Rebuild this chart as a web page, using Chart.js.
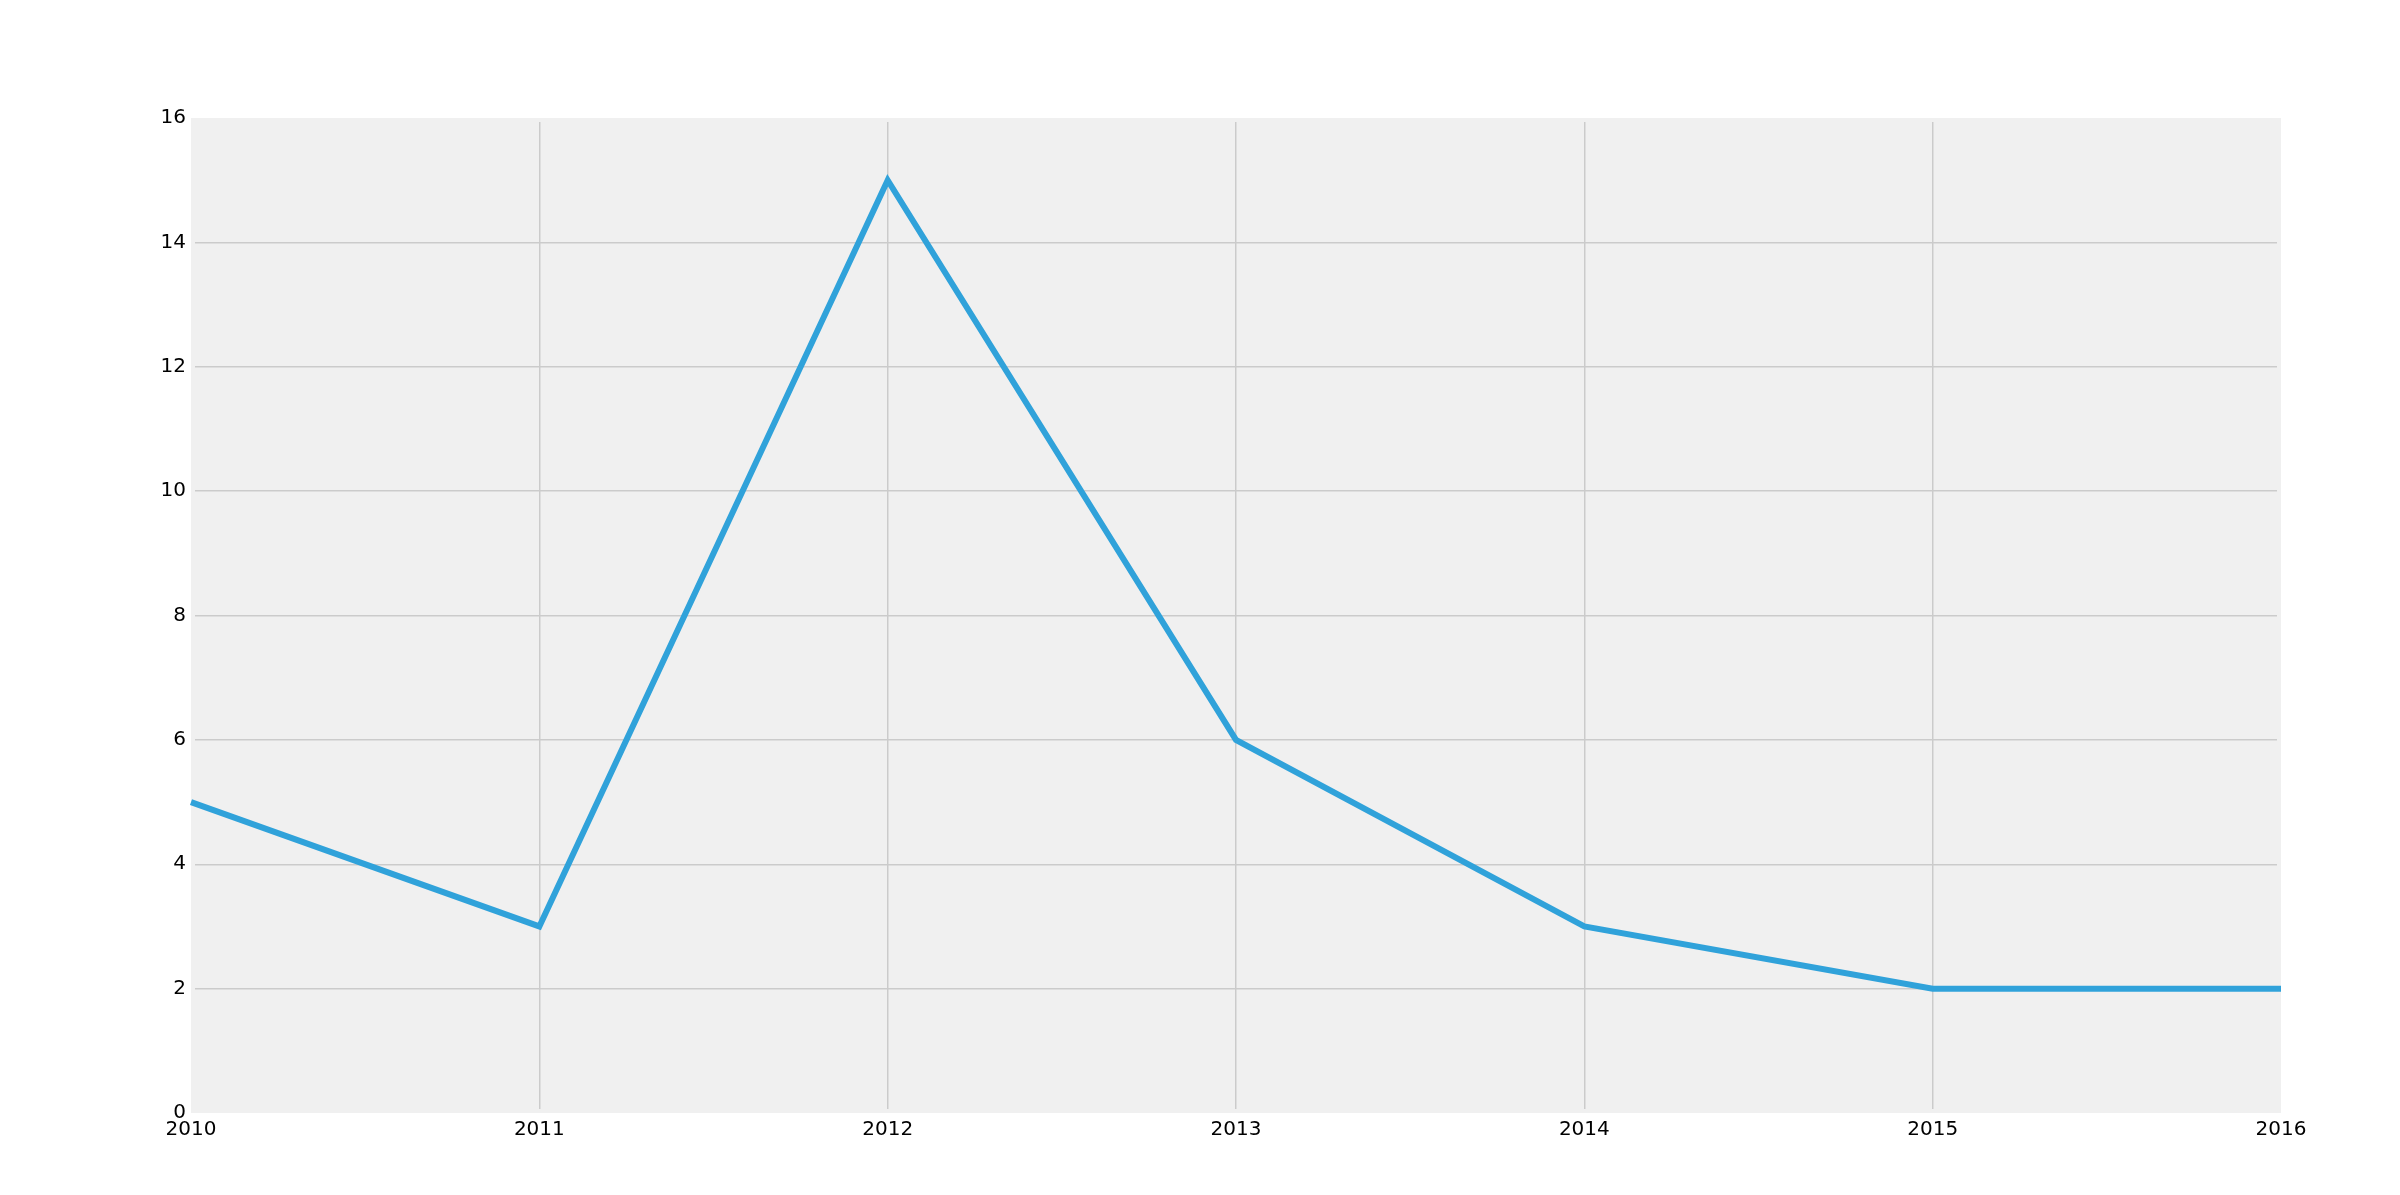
<!DOCTYPE html>
<html>
<head>
<meta charset="utf-8">
<script src="https://cdn.jsdelivr.net/npm/chart.js@4/dist/chart.umd.min.js"></script>
<style>
    html, body { margin: 0; padding: 0; background: #ffffff; }
    canvas { display: block; }
</style>
</head>
<body>
<canvas id="myChart" width="2400" height="1195"></canvas>
<script>
// data
const years = ["2010", "2011", "2012", "2013", "2014", "2015", "2016"];
const values = [5, 3, 15, 6, 3, 2, 2];
const yTicks = [0, 2, 4, 6, 8, 10, 12, 14, 16];

// grey plot background (fivethirtyeight look)
const plotBackground = {
    id: 'plotBackground',
    beforeDraw(chart) {
        const { ctx, chartArea } = chart;
        ctx.save();
        ctx.fillStyle = '#f0f0f0';
        ctx.fillRect(chartArea.left, chartArea.top, chartArea.right - chartArea.left, chartArea.bottom - chartArea.top);
        ctx.restore();
    },
    // grid lines stop a few px short of the plot edge
    beforeDatasetsDraw(chart) {
        const { ctx, chartArea } = chart;
        ctx.save();
        ctx.strokeStyle = '#f0f0f0';
        ctx.lineWidth = 4;
        ctx.strokeRect(chartArea.left + 2, chartArea.top + 2, chartArea.right - chartArea.left - 4, chartArea.bottom - chartArea.top - 4);
        ctx.restore();
    }
};

// no grid line on the outer edges of the plot
function innerGrid(c) {
    const n = c.scale.ticks.length;
    return (c.index === 0 || c.index === n - 1) ? 'rgba(0,0,0,0)' : '#cbcbcb';
}

const ctx = document.getElementById('myChart');
const chart = new Chart(ctx, {
    type: 'line',
    data: {
        labels: years,
        datasets: [{
            data: values,
            borderColor: '#30a2da',
            borderWidth: 6,
            pointRadius: 0,
            tension: 0,
            fill: false
        }]
    },
    options: {
        responsive: false,
        animation: false,
        layout: {
            padding: { top: 118, right: 119, left: 0, bottom: 0 }
        },
        plugins: {
            legend: { display: false },
            tooltip: { enabled: false }
        },
        scales: {
            x: {
                offset: false,
                border: { display: false },
                grid: { color: innerGrid, lineWidth: 1.5, drawTicks: false },
                ticks: {
                    padding: 5,
                    color: '#000000',
                    maxRotation: 0,
                    font: { family: "'DejaVu Sans'", size: 20 }
                },
                afterFit(scale) { scale.height = 82; }
            },
            y: {
                min: 0,
                max: 16,
                border: { display: false },
                grid: { color: innerGrid, lineWidth: 1.5, drawTicks: false },
                afterBuildTicks(scale) { scale.ticks = yTicks.map(v => ({ value: v })); },
                ticks: {
                    padding: 5,
                    color: '#000000',
                    font: { family: "'DejaVu Sans'", size: 20 }
                },
                afterFit(scale) { scale.width = 191; }
            }
        }
    },
    plugins: [plotBackground]
});
</script>
</body>
</html>
